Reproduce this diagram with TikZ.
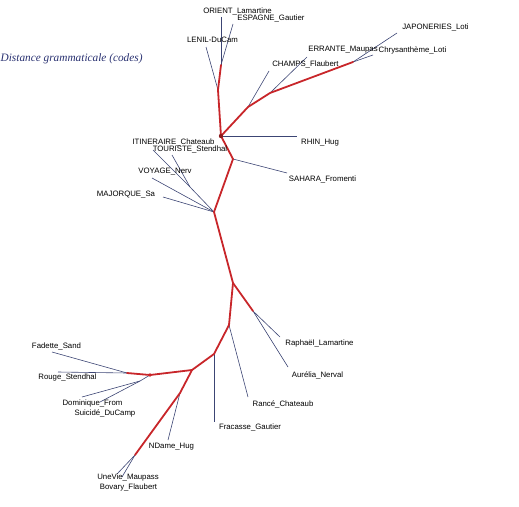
\documentclass[tikz,border=0pt]{standalone}
\usepackage{fontspec}
\setmainfont{Liberation Sans}
\newfontfamily\titlefont{Liberation Serif}
\usepackage{xcolor}
\definecolor{treeRed}{HTML}{C8262A}
\definecolor{leafBlue}{HTML}{3C4574}
\definecolor{titleBlue}{HTML}{283070}
\usepackage{tikz}

\begin{document}
\begin{tikzpicture}[x=1pt, y=-1pt,
  branch/.style={treeRed, line width=1.8pt, line cap=round, line join=round},
  leaf/.style={leafBlue, line width=0.6pt},
  lbl/.style={inner sep=0pt, font=\fontsize{7.8}{8}\selectfont}]
  \useasboundingbox (0,0) rectangle (519,506);
  % ---------- title ----------
  \node[anchor=west, inner sep=0pt, text=titleBlue, font=\titlefont\itshape\fontsize{11.3}{13}\selectfont]
    (title) at (0.5,59) {Distance grammaticale (codes)};
  % ---------- inner junctions ----------
  \coordinate (hub) at (221,136);
  \coordinate (jLenil) at (218,90);
  \coordinate (jOrient) at (221,65);
  \coordinate (jChamps) at (248,107);
  \coordinate (jErrante) at (270,93);
  \coordinate (jLoti) at (353,62);
  \coordinate (jSahara) at (233,159);
  \coordinate (jVoyage) at (214,212);
  \coordinate (jTouriste) at (190,187);
  \coordinate (jRaphael) at (233,283);
  \coordinate (jAurelia) at (253,311);
  \coordinate (jRance) at (229,325);
  \coordinate (jFracasse) at (214,354);
  \coordinate (jSouth) at (192,370);
  \coordinate (jRouge) at (150,375);
  \coordinate (jFadette) at (127,373);
  \coordinate (jDominique) at (140,381);
  \coordinate (jNDame) at (180,393);
  \coordinate (jBovary) at (135,455);
  % ---------- leaf ends ----------
  \coordinate (eLenil) at (206,47);
  \coordinate (eOrient) at (221,17);
  \coordinate (eEspagne) at (233,24);
  \coordinate (eChamps) at (269,71);
  \coordinate (eErrante) at (307,57);
  \coordinate (eJapon) at (397,33);
  \coordinate (eChrys) at (373,55);
  \coordinate (eRhin) at (297,136);
  \coordinate (eSahara) at (287,173);
  \coordinate (eItin) at (153,150);
  \coordinate (eTour) at (172,155);
  \coordinate (eVoyage) at (152,178);
  \coordinate (eMajorque) at (163,197);
  \coordinate (eRaphael) at (280,337);
  \coordinate (eAurelia) at (288,367);
  \coordinate (eRance) at (248,397);
  \coordinate (eFracasse) at (214,422);
  \coordinate (eFadette) at (52,352);
  \coordinate (eRouge) at (58,372);
  \coordinate (eDominique) at (82,397);
  \coordinate (eSuicide) at (100,402);
  \coordinate (eNDame) at (168,440);
  \coordinate (eUneVie) at (117,474);
  \coordinate (eBovary) at (122,477);
  % ---------- thin leaf edges ----------
  \draw[leaf] (jLenil) -- (eLenil);
  \draw[leaf] (jOrient) -- (eOrient);
  \draw[leaf] (jOrient) -- (eEspagne);
  \draw[leaf] (jChamps) -- (eChamps);
  \draw[leaf] (jErrante) -- (eErrante);
  \draw[leaf] (jLoti) -- (eJapon);
  \draw[leaf] (jLoti) -- (eChrys);
  \draw[leaf] (hub) -- (eRhin);
  \draw[leaf] (jSahara) -- (eSahara);
  \draw[leaf] (jVoyage) -- (jTouriste) -- (eItin);
  \draw[leaf] (jTouriste) -- (eTour);
  \draw[leaf] (jVoyage) -- (eVoyage);
  \draw[leaf] (jVoyage) -- (eMajorque);
  \draw[leaf] (jAurelia) -- (eRaphael);
  \draw[leaf] (jAurelia) -- (eAurelia);
  \draw[leaf] (jRance) -- (eRance);
  \draw[leaf] (jFracasse) -- (eFracasse);
  \draw[leaf] (jFadette) -- (eFadette);
  \draw[leaf] (jFadette) -- (eRouge);
  \draw[leaf] (jRouge) -- (jDominique) -- (eDominique);
  \draw[leaf] (jDominique) -- (eSuicide);
  \draw[leaf] (jNDame) -- (eNDame);
  \draw[leaf] (jBovary) -- (eUneVie);
  \draw[leaf] (jBovary) -- (eBovary);
  % ---------- thick inner edges ----------
  \draw[branch] (jOrient) -- (jLenil) -- (hub) -- (jSahara) -- (jVoyage) -- (jRaphael)
    -- (jRance) -- (jFracasse) -- (jSouth) -- (jNDame) -- (jBovary);
  \draw[branch] (hub) -- (jChamps) -- (jErrante) -- (jLoti);
  \draw[branch] (jRaphael) -- (jAurelia);
  \draw[branch] (jSouth) -- (jRouge) -- (jFadette);
  \fill[treeRed!70!black] (hub) circle (2.2);
  \fill[treeRed] (jRouge) circle (1.8);
  % ---------- labels ----------
  \node[lbl] (lOrient) at (237.5,11) {ORIENT\_Lamartine};
  \node[lbl] (lEspagne) at (271,18) {ESPAGNE\_Gautier};
  \node[lbl] (lLenil) at (212.5,40) {LENIL-DuCam};
  \node[lbl] (lJapon) at (435.5,27) {JAPONERIES\_Loti};
  \node[lbl] (lErrante) at (343,50) {ERRANTE\_Maupas};
  \node[lbl] (lChrys) at (412.5,50) {Chrysanthème\_Loti};
  \node[lbl] (lChamps) at (305.5,64) {CHAMPS\_Flaubert};
  \node[lbl] (lRhin) at (320,143) {RHIN\_Hug};
  \node[lbl] (lItin) at (173.5,142) {ITINERAIRE\_Chateaub};
  \node[lbl] (lTour) at (190,149) {TOURISTE\_Stendhal};
  \node[lbl] (lVoyage) at (165,172) {VOYAGE\_Nerv};
  \node[lbl] (lMajorque) at (126,195) {MAJORQUE\_Sa};
  \node[lbl] (lSahara) at (322.5,179) {SAHARA\_Fromenti};
  \node[lbl] (lRaphael) at (319.5,343) {Raphaël\_Lamartine};
  \node[lbl] (lAurelia) at (317.5,375) {Aurélia\_Nerval};
  \node[lbl] (lRance) at (283,404) {Rancé\_Chateaub};
  \node[lbl] (lFracasse) at (250,427) {Fracasse\_Gautier};
  \node[lbl] (lNDame) at (171.5,447) {NDame\_Hug};
  \node[lbl] (lUneVie) at (128,477) {UneVie\_Maupass};
  \node[lbl] (lBovary) at (128.5,487) {Bovary\_Flaubert};
  \node[lbl] (lFadette) at (56.5,346) {Fadette\_Sand};
  \node[lbl] (lRouge) at (67.5,377) {Rouge\_Stendhal};
  \node[lbl] (lDominique) at (92.5,403) {Dominique\_From};
  \node[lbl] (lSuicide) at (105,413) {Suicidé\_DuCamp};
\end{tikzpicture}
\end{document}
